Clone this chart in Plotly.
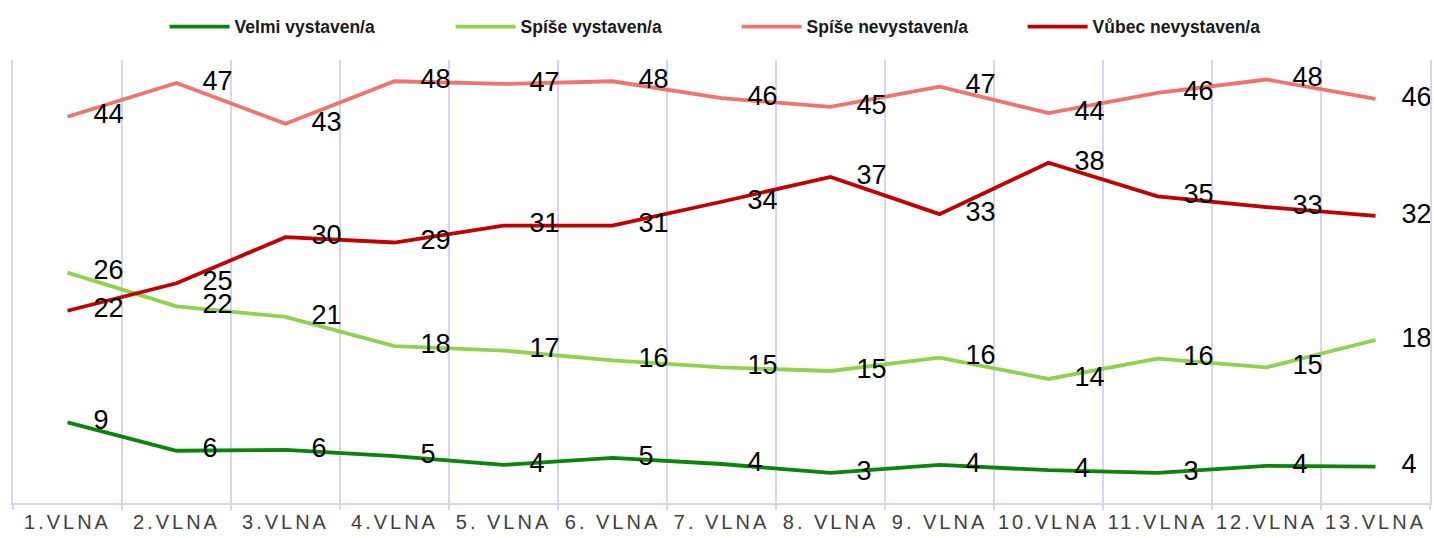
import plotly.graph_objects as go

waves = ["1.VLNA", "2.VLNA", "3.VLNA", "4.VLNA", "5. VLNA", "6. VLNA", "7. VLNA",
         "8. VLNA", "9. VLNA", "10.VLNA", "11.VLNA", "12.VLNA", "13.VLNA"]

velmi_vystaven = [9.1, 5.9, 6.0, 5.3, 4.3, 5.1, 4.4, 3.4, 4.3, 3.7, 3.4, 4.2, 4.1]
spise_vystaven = [26.0, 22.2, 21.0, 17.7, 17.2, 16.1, 15.3, 14.9, 16.4, 14.0, 16.3, 15.3, 18.4]
spise_nevystaven = [43.6, 47.4, 42.8, 47.6, 47.3, 47.6, 45.7, 44.7, 47.0, 44.0, 46.3, 47.8, 45.6]
vubec_nevystaven = [21.7, 24.8, 30.0, 29.4, 31.3, 31.3, 34.0, 36.8, 32.6, 38.4, 34.6, 33.4, 32.4]

series = [
    ("Velmi vystaven/a", velmi_vystaven, "#0a840a"),
    ("Spíše vystaven/a", spise_vystaven, "#92d050"),
    ("Spíše nevystaven/a", spise_nevystaven, "#ee7470"),
    ("Vůbec nevystaven/a", vubec_nevystaven, "#c00000"),
]

GRID = "#d5d5f0"

fig = go.Figure()
for name, vals, color in series:
    fig.add_trace(go.Scatter(
        x=waves, y=vals, name=name,
        mode="lines+markers+text",
        line=dict(color=color, width=3.8),
        marker=dict(size=40, color="rgba(0,0,0,0)", opacity=0),
        texttemplate="%{y:.0f}",
        textposition="middle right",
        textfont=dict(family="Liberation Sans, Arial, sans-serif", size=27, color="#000000"),
        cliponaxis=False,
        hoverinfo="skip",
    ))

fig.update_layout(
    width=1434, height=538,
    margin=dict(l=13, r=4, t=60, b=35, autoexpand=False),
    paper_bgcolor="white", plot_bgcolor="white",
    showlegend=True,
    legend=dict(
        orientation="h", x=0.107, xanchor="left", y=1.075, yanchor="middle",
        font=dict(family="Liberation Sans, Arial, sans-serif",
                  size=17.5, color="#1a1a1a", weight="bold"),
        itemwidth=60,
        entrywidth=211, entrywidthmode="pixels",
        bgcolor="rgba(0,0,0,0)",
    ),
    xaxis=dict(
        type="category", tickson="boundaries", range=[-0.5, 12.5],
        showgrid=True, gridcolor=GRID, gridwidth=2,
        showline=True, linecolor=GRID, linewidth=2,
        ticks="outside", ticklen=5, tickcolor=GRID, tickwidth=2,
        tickfont=dict(family="Liberation Sans, Arial, sans-serif", size=20, color="#404040"),
        zeroline=False, automargin=False,
    ),
    yaxis=dict(
        range=[0, 50], showgrid=False, showticklabels=False, zeroline=False,
        showline=True, mirror=True, linecolor=GRID, linewidth=2, ticks="",
        automargin=False,
    ),
)

post = """
document.body.style.margin = '0';
document.body.style.padding = '0';
document.querySelectorAll('.xtick text').forEach(function(t){t.setAttribute('letter-spacing','3px');});
"""

fig.write_html("out.html", post_script=post, config={"displayModeBar": False})
